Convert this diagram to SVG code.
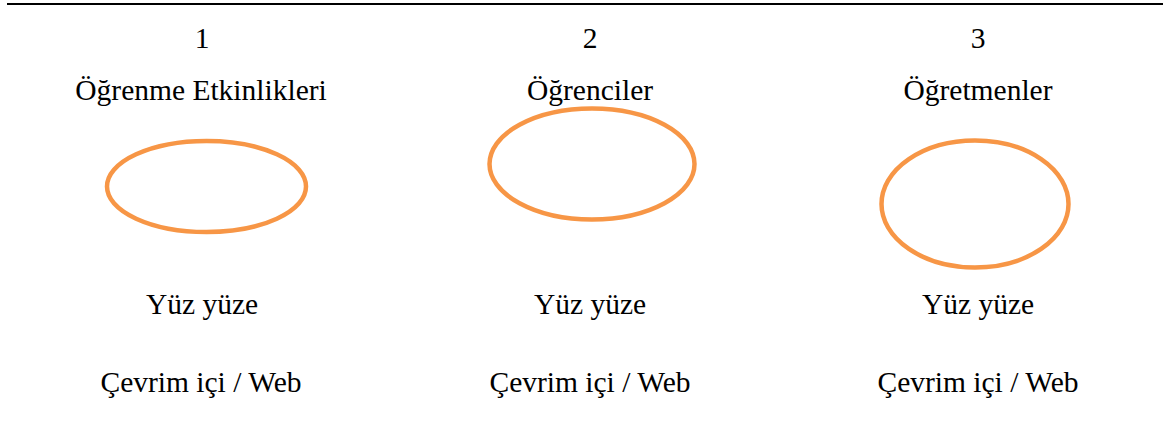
<svg xmlns="http://www.w3.org/2000/svg" width="1168" height="435" viewBox="0 0 1168 435">
<style>
text{font-family:"Liberation Serif","Times New Roman",serif;font-size:29.5px;fill:#000;text-anchor:middle}
.ell{fill:none;stroke:#F79646;stroke-width:4.5}
</style>
<rect width="1168" height="435" fill="#fff"/>
<line x1="7" y1="4" x2="1163" y2="4" stroke="#000" stroke-width="2"/>
<g id="col1">
<text x="202" y="48">1</text>
<text x="201" y="100">Öğrenme Etkinlikleri</text>
<ellipse class="ell" cx="206.5" cy="186.5" rx="99.5" ry="45.5"/>
<text x="202" y="314">Yüz yüze</text>
<text x="201" y="392">Çevrim içi / Web</text>
</g>
<g id="col2">
<text x="590" y="48">2</text>
<text x="590" y="100">Öğrenciler</text>
<ellipse class="ell" cx="592" cy="164" rx="102.5" ry="55.5"/>
<text x="590" y="314">Yüz yüze</text>
<text x="590" y="392">Çevrim içi / Web</text>
</g>
<g id="col3">
<text x="978" y="48">3</text>
<text x="978" y="100">Öğretmenler</text>
<ellipse class="ell" cx="975" cy="204" rx="93.5" ry="63.5"/>
<text x="978" y="314">Yüz yüze</text>
<text x="978" y="392">Çevrim içi / Web</text>
</g>
<g id="connectors"></g>
</svg>
